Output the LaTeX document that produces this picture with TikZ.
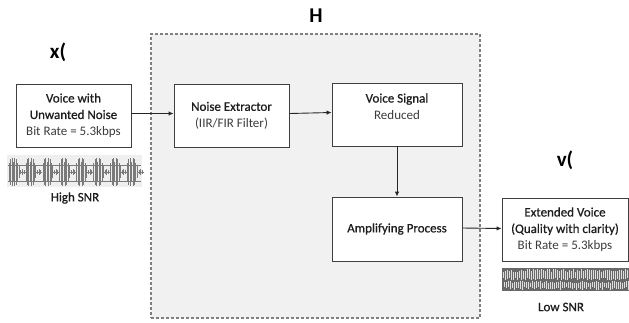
\documentclass[tikz,border=0pt]{standalone}
\usepackage{fontspec}
\setmainfont{Carlito}
\newfontfamily\semibold{Carlito}[FakeBold=0.8]
\usetikzlibrary{arrows.meta}
\definecolor{boxline}{HTML}{3F3F3F}
\definecolor{linkc}{HTML}{262626}
\definecolor{txt}{HTML}{1E1E1E}
\definecolor{subtxt}{HTML}{3C3C3C}
\definecolor{panel}{HTML}{F1F1F1}
\definecolor{panelline}{HTML}{7F7F7F}
\definecolor{wave}{HTML}{7A7A7A}
\definecolor{wavebg}{HTML}{EFEFEF}
\newcommand{\ttl}[1]{{\semibold\color{txt}#1}}
\begin{document}
\begin{tikzpicture}[x=1pt,y=-1pt,
  box/.style={draw=boxline, line width=0.9pt, fill=white, align=center,
    inner sep=0pt, text=subtxt, font=\fontsize{13}{16.5}\selectfont},
  link/.style={draw=linkc, line width=0.9pt, -{Latex[length=5pt,width=4.5pt]}},
  big/.style={text=black, font=\fontsize{21}{24}\selectfont\bfseries},
  snr/.style={text=txt, font=\fontsize{13}{15}\selectfont\semibold},
  wv/.style={draw=wave, line width=0.45pt}]
\useasboundingbox (0,0) rectangle (629,322);

% system block H
\node[draw=panelline, fill=panel, line width=1.1pt, dash pattern=on 3pt off 2pt,
  minimum width=329pt, minimum height=284pt, inner sep=0pt] (sys) at (315.5,176) {};
\node[big] (hlabel) at (316,16) {H};

% signal labels
\node[big] (xlabel) at (58,52) {x(};
\node[big] (vlabel) at (565,160) {v(};

% blocks
\node[box, minimum width=115pt, minimum height=63pt] (src) at (73.5,115.5)
  {\ttl{Voice with}\\\ttl{Unwanted Noise}\\Bit Rate = 5.3kbps};
\node[box, minimum width=115pt, minimum height=63pt] (ext) at (231.5,115.5)
  {\ttl{Noise Extractor}\\(IIR/FIR Filter)};
\node[box, minimum width=130pt, minimum height=63pt] (red) at (397,114.5)
  {\ttl{Voice Signal}\\Reduced\\\mbox{}};
\node[box, minimum width=130pt, minimum height=64pt] (amp) at (397,229)
  {\ttl{Amplifying Process}};
\node[box, minimum width=126pt, minimum height=63pt] (out) at (565,229.5)
  {\ttl{Extended Voice}\\\ttl{(Quality with clarity)}\\Bit Rate = 5.3kbps};

% connectors
\draw[link] ([yshift=2pt]src.east) -- ([yshift=2pt]ext.west);
\draw[link] ([yshift=2pt]ext.east) -- ([yshift=2pt]red.west);
\draw[link] (red.south) -- (amp.north);
\draw[link] ([yshift=1pt]amp.east) -- ([yshift=1pt]out.west);

% high SNR waveform: speech bursts over a quiet baseline
\fill[wavebg] (7,155) rectangle (142,187);
\draw[wv, line width=0.35pt] (8,165) -- (141,165);
\draw[wv, line width=0.35pt] (8,181) -- (141,181);
\foreach \k in {0,...,7} {
  \pgfmathsetmacro{\xo}{9+16.9*\k}
  \foreach \d/\h in {0/9,1.4/13,2.8/14,4.2/10,5.6/14,7/13,8.4/9,9.8/6} {
    \draw[wv] (\xo+\d,172-\h) -- (\xo+\d,172+\h);
  }
  \draw[wv] (\xo+10.5,172) -- (\xo+16.5,172);
  \foreach \d/\h in {11.6/2,13.2/3,14.8/2} {
    \draw[wv] (\xo+\d,172-\h) -- (\xo+\d,172+\h);
  }
}
\node[snr] (hsnr) at (75,198) {High SNR};

% low SNR waveform: dense noise band
\fill[wave!85!black] (502,268) rectangle (629,291);
\pgfmathsetseed{7}
\foreach \i in {0,...,62} {
  \pgfmathsetmacro{\xx}{503+2*\i}
  \pgfmathsetmacro{\ta}{269+3*rnd}
  \pgfmathsetmacro{\tb}{278+2*rnd}
  \pgfmathsetmacro{\wa}{0.25+0.5*rnd}
  \draw[white!75!wave, line width=\wa pt] (\xx,\ta) -- (\xx,\tb);
  \pgfmathsetmacro{\tc}{281+2*rnd}
  \pgfmathsetmacro{\td}{287+3*rnd}
  \pgfmathsetmacro{\wb}{0.25+0.5*rnd}
  \draw[white!75!wave, line width=\wb pt] (\xx+1,\tc) -- (\xx+1,\td);
}
\node[snr] (lsnr) at (561,307) {Low SNR};
\end{tikzpicture}
\end{document}
